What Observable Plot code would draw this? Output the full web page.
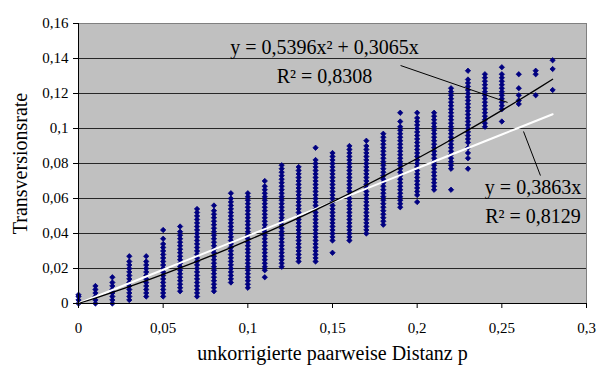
<!DOCTYPE html>
<html><head><meta charset="utf-8">
<script src="https://cdn.jsdelivr.net/npm/d3@7"></script>
<script src="https://cdn.jsdelivr.net/npm/@observablehq/plot@0.6"></script>
<style>html,body{margin:0;padding:0;background:#fff;}</style>
</head><body><div id="chart"></div>
<script>
// uncorrected pairwise distance p (x categories)
const distances = [0,0.01,0.02,0.03,0.04,0.05,0.06,0.07,0.08,0.09,0.1,0.11,0.12,0.13,0.14,0.15,0.16,0.17,0.18,0.19,0.2,0.21,0.22,0.23,0.24,0.25,0.26,0.27,0.28];
const rates = [
  [0,0.002,0.004,0.005],
  [0,0.002,0.004,0.006,0.008,0.010],
  [0,0.002,0.004,0.006,0.008,0.010,0.012,0.015],
  [0.002,0.004,0.006,0.008,0.010,0.012,0.014,0.016,0.018,0.020,0.022,0.024,0.027],
  [0.004,0.006,0.008,0.010,0.012,0.014,0.016,0.018,0.020,0.022,0.024,0.027],
  [0.004,0.006,0.008,0.010,0.012,0.014,0.016,0.018,0.020,0.022,0.024,0.026,0.028,0.030,0.032,0.034,0.037,0.042],
  [0.007,0.009,0.011,0.013,0.015,0.017,0.019,0.021,0.023,0.025,0.027,0.029,0.031,0.033,0.035,0.037,0.039,0.041,0.044],
  [0.004,0.006,0.008,0.010,0.012,0.014,0.016,0.018,0.020,0.022,0.024,0.026,0.028,0.030,0.032,0.034,0.036,0.038,0.040,0.042,0.044,0.046,0.048,0.050,0.052,0.054],
  [0.007,0.009,0.011,0.013,0.015,0.017,0.019,0.021,0.023,0.025,0.027,0.029,0.031,0.033,0.035,0.037,0.039,0.041,0.043,0.045,0.047,0.049,0.051,0.053,0.056],
  [0.012,0.014,0.016,0.018,0.020,0.022,0.024,0.026,0.028,0.030,0.032,0.034,0.036,0.038,0.040,0.042,0.044,0.046,0.048,0.050,0.052,0.054,0.056,0.058,0.060,0.063],
  [0.009,0.011,0.013,0.015,0.017,0.019,0.021,0.023,0.025,0.027,0.029,0.031,0.033,0.035,0.037,0.039,0.041,0.043,0.045,0.047,0.049,0.051,0.053,0.055,0.057,0.059,0.061,0.063],
  [0.015,0.019,0.021,0.023,0.025,0.027,0.029,0.031,0.033,0.035,0.037,0.039,0.041,0.043,0.045,0.047,0.049,0.051,0.053,0.055,0.057,0.059,0.061,0.063,0.065,0.067,0.070],
  [0.021,0.023,0.025,0.027,0.029,0.031,0.033,0.035,0.037,0.039,0.041,0.043,0.045,0.047,0.049,0.051,0.053,0.055,0.057,0.059,0.061,0.063,0.065,0.067,0.069,0.071,0.073,0.075,0.077,0.079],
  [0.024,0.026,0.028,0.030,0.032,0.034,0.036,0.038,0.040,0.042,0.044,0.046,0.048,0.050,0.052,0.054,0.056,0.058,0.060,0.062,0.064,0.066,0.068,0.070,0.072,0.074,0.076,0.078],
  [0.024,0.026,0.028,0.030,0.032,0.034,0.036,0.038,0.040,0.042,0.044,0.046,0.048,0.050,0.052,0.054,0.056,0.058,0.060,0.062,0.064,0.066,0.068,0.070,0.072,0.074,0.076,0.078,0.080,0.082,0.089],
  [0.029,0.036,0.038,0.040,0.042,0.044,0.046,0.048,0.050,0.052,0.054,0.056,0.058,0.060,0.062,0.064,0.066,0.068,0.070,0.072,0.074,0.076,0.078,0.080,0.082,0.084,0.086],
  [0.036,0.038,0.040,0.042,0.044,0.046,0.048,0.050,0.052,0.054,0.056,0.058,0.060,0.062,0.064,0.066,0.068,0.070,0.072,0.074,0.076,0.078,0.080,0.082,0.084,0.086,0.088,0.090],
  [0.040,0.042,0.044,0.046,0.048,0.050,0.052,0.054,0.056,0.058,0.060,0.062,0.064,0.066,0.068,0.070,0.072,0.074,0.076,0.078,0.080,0.082,0.084,0.086,0.088,0.090,0.093],
  [0.045,0.047,0.049,0.051,0.053,0.055,0.057,0.059,0.061,0.063,0.065,0.067,0.069,0.071,0.073,0.075,0.077,0.079,0.081,0.083,0.085,0.087,0.089,0.091,0.093,0.095,0.097],
  [0.055,0.057,0.059,0.061,0.063,0.065,0.067,0.069,0.071,0.073,0.075,0.077,0.079,0.081,0.083,0.085,0.087,0.089,0.091,0.093,0.095,0.097,0.099,0.101,0.104,0.109],
  [0.058,0.062,0.064,0.066,0.068,0.070,0.072,0.074,0.076,0.078,0.080,0.082,0.084,0.086,0.088,0.090,0.092,0.094,0.096,0.098,0.100,0.102,0.104,0.106,0.109],
  [0.065,0.067,0.069,0.071,0.073,0.075,0.077,0.079,0.081,0.083,0.085,0.087,0.089,0.091,0.093,0.095,0.097,0.099,0.101,0.103,0.105,0.107,0.109],
  [0.065,0.077,0.079,0.081,0.083,0.085,0.087,0.089,0.091,0.093,0.095,0.097,0.099,0.101,0.103,0.105,0.107,0.109,0.111,0.113,0.115,0.117,0.119,0.121,0.123],
  [0.077,0.083,0.086,0.089,0.092,0.094,0.096,0.098,0.100,0.102,0.104,0.106,0.108,0.110,0.112,0.114,0.116,0.118,0.120,0.122,0.124,0.126,0.128,0.133],
  [0.101,0.103,0.105,0.107,0.109,0.111,0.113,0.115,0.117,0.119,0.121,0.123,0.125,0.127,0.129,0.131],
  [0.104,0.111,0.113,0.115,0.117,0.119,0.121,0.123,0.125,0.127,0.129,0.131,0.135],
  [0.114,0.116,0.119,0.123,0.131],
  [0.119,0.131,0.133],
  [0.122,0.134,0.139]
];
const yTicks = [0,0.02,0.04,0.06,0.08,0.1,0.12,0.14,0.16];
const xTicks = [0,0.05,0.1,0.15,0.2,0.25,0.3];
// trendline coefficients as printed on the chart
const polyA = 0.5396, polyB = 0.3065, polyR2 = 0.8308;
const linA = 0.3863, linR2 = 0.8129;
const xTitle = "unkorrigierte paarweise Distanz p";
const yTitle = "Transversionsrate";

const fmt = d => String(d).replace(".", ",");
const points = distances.flatMap((x, i) => rates[i].map(y => ({x, y})));
const polyLine = distances.map(x => ({x, y: polyA * x * x + polyB * x}));
const linLine = distances.map(x => ({x, y: linA * x}));

// annotation placement (data units)
const eqPoly = [{x: 0.1453, y: 0.1463, t: `y = ${fmt(polyA)}x² + ${fmt(polyB)}x`}, {x: 0.1453, y: 0.1294, t: `R² = ${fmt(polyR2)}`}];
const eqLin = [{x: 0.2684, y: 0.0665, t: `y = ${fmt(linA)}x`}, {x: 0.2684, y: 0.0495, t: `R² = ${fmt(linR2)}`}];
const leaders = [
  {x1: 0.1902, y1: 0.1360, x2: 0.2534, y2: 0.1149},
  {x1: 0.2628, y1: 0.0983, x2: 0.2728, y2: 0.0731}
];

const serif = "'Liberation Serif', 'Times New Roman', serif";
const chart = Plot.plot({
  width: 603, height: 374,
  marginLeft: 78, marginRight: 17, marginTop: 23, marginBottom: 71,
  style: {fontFamily: serif, background: "#fff", color: "#000"},
  x: {domain: [0, 0.3]},
  y: {domain: [0, 0.16]},
  marks: [
    Plot.frame({fill: "#c0c0c0", stroke: null}),
    Plot.ruleY(yTicks.filter(d => d > 0 && d < 0.16), {stroke: "#000", strokeWidth: 1, strokeOpacity: 0.8}),
    Plot.ruleY([0.16], {stroke: "#808080"}),
    Plot.ruleX([0.3], {stroke: "#808080"}),
    Plot.dot(points, {x: "x", y: "y", symbol: "diamond2", r: 2.4, fill: "#000080", stroke: "#000080", strokeWidth: 0.8}),
    Plot.line(linLine, {x: "x", y: "y", stroke: "#fff", strokeWidth: 2}),
    Plot.line(polyLine, {x: "x", y: "y", stroke: "#000", strokeWidth: 1.3}),
    Plot.link(leaders, {x1: "x1", y1: "y1", x2: "x2", y2: "y2", stroke: "#000", strokeWidth: 1}),
    Plot.ruleX([0], {stroke: "#000"}),
    Plot.ruleY([0], {stroke: "#000"}),
    Plot.axisY({ticks: yTicks, tickFormat: fmt, tickSize: 5, tickPadding: 5, fontSize: 15, label: null}),
    Plot.axisX({ticks: xTicks, tickFormat: fmt, tickSize: 5, tickPadding: 14, fontSize: 15, label: null}),
    Plot.text(eqPoly, {x: "x", y: "y", text: "t", fontSize: 20, textAnchor: "middle", fill: "#000"}),
    Plot.text(eqLin, {x: "x", y: "y", text: "t", fontSize: 20, textAnchor: "middle", fill: "#000"}),
    Plot.text([yTitle], {frameAnchor: "left", rotate: -90, dx: -58, fontSize: 20, textAnchor: "middle", fill: "#000"}),
    Plot.text([xTitle], {frameAnchor: "bottom", dy: 56, fontSize: 20, textAnchor: "middle", fill: "#000"})
  ]
});
document.getElementById("chart").appendChild(chart);
</script>
</body></html>
